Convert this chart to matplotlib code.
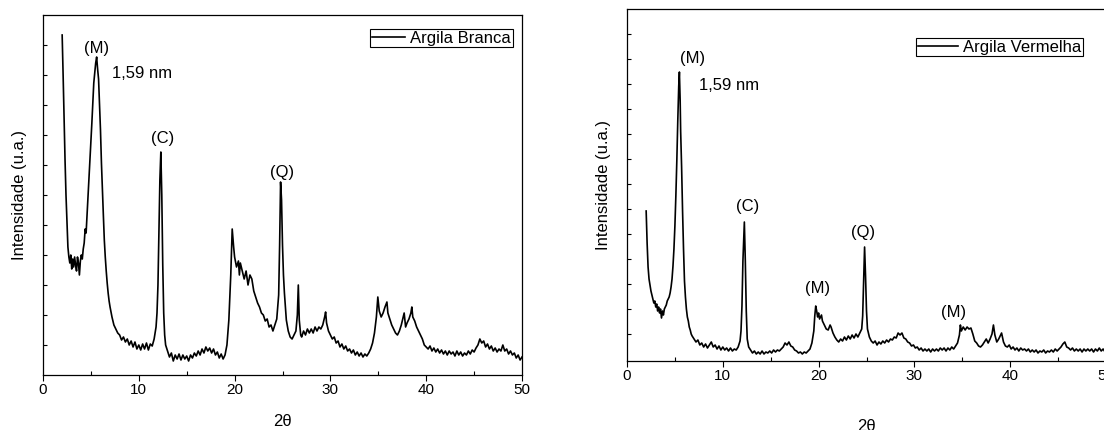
import matplotlib
matplotlib.use("Agg")
import matplotlib.pyplot as plt

plt.rcParams['font.family'] = ['Liberation Sans', 'DejaVu Sans']

# Argila Branca: 2theta and intensity (arbitrary units)
tt_branca = [2.0,2.1,2.2,2.3,2.4,2.5,2.6,2.7,2.8,2.9,3.0,3.1,3.2,3.3,3.4,3.5,3.6,3.7,3.8,3.9,
             4.0,4.1,4.2,4.3,4.4,4.5,4.6,4.7,4.8,4.9,5.0,5.1,5.2,5.3,5.4,5.5,5.6,5.7,5.8,5.9,
             6.0,6.1,6.2,6.3,6.4,6.5,6.6,6.7,6.8,6.9,7.0,7.2,7.4,7.6,7.8,8.0,8.2,8.4,8.6,8.8,
             9.0,9.2,9.4,9.6,9.8,10.0,10.2,10.4,10.6,10.8,11.0,11.2,11.4,11.6,11.8,11.9,12.0,12.1,12.2,12.3,
             12.4,12.5,12.6,12.7,12.8,13.0,13.2,13.4,13.6,13.8,14.0,14.2,14.4,14.6,14.8,15.0,15.2,15.4,15.6,15.8,
             16.0,16.2,16.4,16.6,16.8,17.0,17.2,17.4,17.6,17.8,18.0,18.2,18.4,18.6,18.8,19.0,19.2,19.4,19.6,19.75,
             19.9,20.0,20.2,20.4,20.5,20.6,20.8,21.0,21.2,21.4,21.6,21.8,22.0,22.2,22.4,22.6,22.8,23.0,23.2,23.4,
             23.6,23.8,24.0,24.2,24.4,24.6,24.7,24.8,24.9,25.0,25.1,25.2,25.4,25.6,25.8,26.0,26.2,26.4,26.55,26.65,
             26.75,26.9,27.0,27.2,27.4,27.6,27.8,28.0,28.2,28.4,28.6,28.8,29.0,29.2,29.4,29.5,29.6,29.8,30.0,30.2,
             30.4,30.6,30.8,31.0,31.2,31.4,31.6,31.8,32.0,32.2,32.4,32.6,32.8,33.0,33.2,33.4,33.6,33.8,34.0,34.2,
             34.4,34.6,34.8,34.95,35.1,35.3,35.5,35.7,35.9,36.0,36.2,36.4,36.6,36.8,37.0,37.2,37.4,37.6,37.7,37.85,
             38.0,38.2,38.4,38.5,38.6,38.8,39.0,39.2,39.4,39.6,39.8,40.0,40.2,40.4,40.6,40.8,41.0,41.2,41.4,41.6,
             41.8,42.0,42.2,42.4,42.6,42.8,43.0,43.2,43.4,43.6,43.8,44.0,44.2,44.4,44.6,44.8,45.0,45.2,45.4,45.6,
             45.8,46.0,46.2,46.4,46.6,46.8,47.0,47.2,47.4,47.6,47.8,48.0,48.2,48.4,48.6,48.8,49.0,49.2,49.4,49.6,
             49.8,50.0]
i_branca = [340,300,255,215,180,155,128,118,112,120,106,116,108,118,110,104,118,112,100,114,
            120,116,126,132,146,142,160,178,196,212,232,252,272,292,302,312,318,306,296,270,
            245,212,185,160,135,118,104,92,82,74,68,58,50,46,42,40,35,38,33,36,
            30,34,28,33,26,30,25,31,26,32,25,31,29,36,48,62,90,140,195,223,
            180,110,62,40,30,24,18,22,14,20,16,21,15,20,16,19,14,20,17,22,
            19,24,20,26,22,28,24,27,22,26,20,23,17,21,16,20,30,55,100,146,
            128,118,108,114,100,112,104,96,104,90,100,96,84,78,72,68,62,60,54,56,
            48,50,44,50,56,80,130,193,175,130,100,82,55,44,38,36,40,44,60,90,
            55,40,38,44,40,46,42,46,42,48,44,48,46,50,58,63,52,44,40,36,
            38,32,34,28,31,26,29,24,26,22,25,20,23,19,22,18,21,19,22,26,
            32,42,58,78,64,58,62,68,73,62,56,50,46,42,40,44,50,58,62,48,
            52,56,62,68,58,54,48,44,40,36,30,28,26,29,24,27,23,26,22,25,
            21,24,20,24,21,23,19,24,20,23,19,22,20,24,21,25,23,27,30,36,
            32,34,28,31,26,29,24,27,23,26,24,30,24,26,21,24,20,22,17,20,
            15,18]

# Argila Vermelha
tt_vermelha = [2.0,2.1,2.2,2.3,2.4,2.5,2.6,2.7,2.8,2.9,3.0,3.1,3.2,3.3,3.4,3.5,3.6,3.7,3.8,3.9,
               4.0,4.1,4.2,4.3,4.4,4.5,4.6,4.7,4.8,4.9,5.0,5.1,5.2,5.3,5.4,5.47,5.55,5.6,5.7,5.8,
               5.9,6.0,6.1,6.2,6.3,6.4,6.5,6.6,6.7,6.8,7.0,7.2,7.4,7.6,7.8,8.0,8.2,8.4,8.6,8.8,
               9.0,9.2,9.4,9.6,9.8,10.0,10.2,10.4,10.6,10.8,11.0,11.2,11.4,11.6,11.8,11.9,12.0,12.1,12.25,12.35,
               12.45,12.55,12.7,12.9,13.1,13.3,13.5,13.7,13.9,14.1,14.3,14.5,14.7,14.9,15.1,15.3,15.5,15.7,15.9,16.1,
               16.3,16.5,16.7,16.9,17.1,17.3,17.5,17.7,17.9,18.1,18.3,18.5,18.7,18.9,19.1,19.3,19.5,19.6,19.7,19.8,
               19.9,20.0,20.1,20.3,20.4,20.6,20.8,21.0,21.2,21.3,21.5,21.7,21.9,22.1,22.3,22.5,22.7,22.9,23.1,23.3,
               23.5,23.7,23.9,24.1,24.3,24.5,24.6,24.7,24.8,24.9,25.0,25.1,25.3,25.5,25.7,25.9,26.1,26.3,26.5,26.7,
               26.9,27.1,27.3,27.5,27.7,27.9,28.1,28.3,28.5,28.7,28.9,29.1,29.3,29.5,29.7,29.9,30.1,30.3,30.5,30.7,
               30.9,31.1,31.3,31.5,31.7,31.9,32.1,32.3,32.5,32.7,32.9,33.1,33.3,33.5,33.7,33.9,34.1,34.3,34.5,34.7,
               34.8,34.9,35.1,35.3,35.5,35.7,35.9,36.1,36.3,36.5,36.7,36.9,37.1,37.3,37.5,37.7,37.9,38.1,38.25,38.4,
               38.6,38.8,39.0,39.1,39.3,39.5,39.7,39.9,40.1,40.3,40.5,40.7,40.9,41.1,41.3,41.5,41.7,41.9,42.1,42.3,
               42.5,42.7,42.9,43.1,43.3,43.5,43.7,43.9,44.1,44.3,44.5,44.7,44.9,45.1,45.3,45.5,45.7,45.9,46.1,46.3,
               46.5,46.7,46.9,47.1,47.3,47.5,47.7,47.9,48.1,48.3,48.5,48.7,48.9,49.1,49.3,49.5,49.7,49.9,50.0]
i_vermelha = [150,118,94,82,76,70,66,62,58,60,54,57,50,54,48,52,43,50,46,52,
              54,56,60,62,64,68,74,82,95,112,135,165,200,240,275,289,260,230,194,150,
              112,80,64,52,44,40,34,31,27,25,22,19,21,16,18,14,17,13,16,19,
              14,16,12,15,11,14,11,13,10,13,10,12,11,14,20,30,55,100,139,100,
              50,22,14,11,8,10,7,9,7,10,7,9,8,10,8,11,9,11,10,12,
              14,18,16,19,15,14,11,10,8,9,7,9,8,10,12,18,30,45,55,50,
              44,48,42,46,40,36,32,31,36,34,28,24,21,19,22,20,24,21,25,22,
              26,23,27,24,28,32,45,80,114,85,50,32,24,20,18,20,16,19,17,20,
              18,21,19,22,21,24,23,28,26,28,23,22,19,18,15,16,13,14,11,13,
              10,12,10,12,9,12,10,12,10,13,11,13,10,13,11,14,12,15,18,26,
              36,30,34,31,34,32,33,27,20,18,15,14,16,19,22,18,22,27,36,26,
              19,22,26,28,19,15,14,16,12,14,11,13,10,13,11,12,10,12,9,11,
              9,11,8,10,9,11,8,10,9,11,9,12,10,12,14,17,19,14,13,11,
              13,10,12,10,12,9,12,10,12,10,12,9,12,10,13,10,12,9,11]

labels_branca = [("(M)", 5.64, 327), ("(C)", 12.5, 237), ("(Q)", 24.95, 202)]
labels_vermelha = [("(M)", 6.8, 303), ("(C)", 12.6, 154), ("(M)", 19.9, 73),
                   ("(Q)", 24.6, 128), ("(M)", 34.1, 49)]

fig = plt.figure(figsize=(11.04, 4.30), dpi=100)
ax1 = fig.add_axes([43/1104, 55/430, 479/1104, 360/430])
ax2 = fig.add_axes([627/1104, 69/430, 479/1104, 352/430])

def style(ax, ymax, step, lbpad):
    ax.set_xlim(0, 50); ax.set_ylim(0, ymax)
    ax.set_xticks([0, 10, 20, 30, 40, 50])
    ax.set_xticks([5, 15, 25, 35, 45], minor=True)
    ax.set_yticks([ymax - step*k for k in range(1, int(ymax/step)+1) if ymax - step*k > 5])
    ax.set_yticklabels([])
    ax.tick_params(axis='x', which='major', direction='out', length=4, width=0.8, labelsize=11, pad=2)
    ax.tick_params(axis='x', which='minor', direction='in', length=3, width=0.8)
    ax.tick_params(axis='y', which='major', direction='in', length=3, width=0.8)
    ax.set_ylabel("Intensidade (u.a.)", fontsize=12, labelpad=8)
    ax.set_xlabel("2θ", fontsize=12, labelpad=lbpad)
    for s in ax.spines.values(): s.set_linewidth(0.9)

ax1.plot(tt_branca, i_branca, color='black', lw=1.2, label="Argila Branca")
style(ax1, 360, 30, 12)
for t, x, y in labels_branca: ax1.text(x, y, t, fontsize=12, ha='center', va='center')
ax1.text(7.2, 301, "1,59 nm", fontsize=12, ha='left', va='center')
ax1.legend(loc='upper right', bbox_to_anchor=(0.981, 0.961), borderaxespad=0, fontsize=12,
           frameon=True, fancybox=False, edgecolor='black', framealpha=1, handlelength=2.0,
           handletextpad=0.3, borderpad=0.1).get_frame().set_linewidth(0.8)

ax2.plot(tt_vermelha, i_vermelha, color='black', lw=1.2, label="Argila Vermelha")
style(ax2, 352, 25, 26)
for t, x, y in labels_vermelha: ax2.text(x, y, t, fontsize=12, ha='center', va='center')
ax2.text(7.5, 275, "1,59 nm", fontsize=12, ha='left', va='center')
ax2.legend(loc='upper right', bbox_to_anchor=(0.952, 0.918), borderaxespad=0, fontsize=12,
           frameon=True, fancybox=False, edgecolor='black', framealpha=1, handlelength=2.4,
           handletextpad=0.3, borderpad=0.1).get_frame().set_linewidth(0.8)

fig.savefig("out.png", dpi=100)
